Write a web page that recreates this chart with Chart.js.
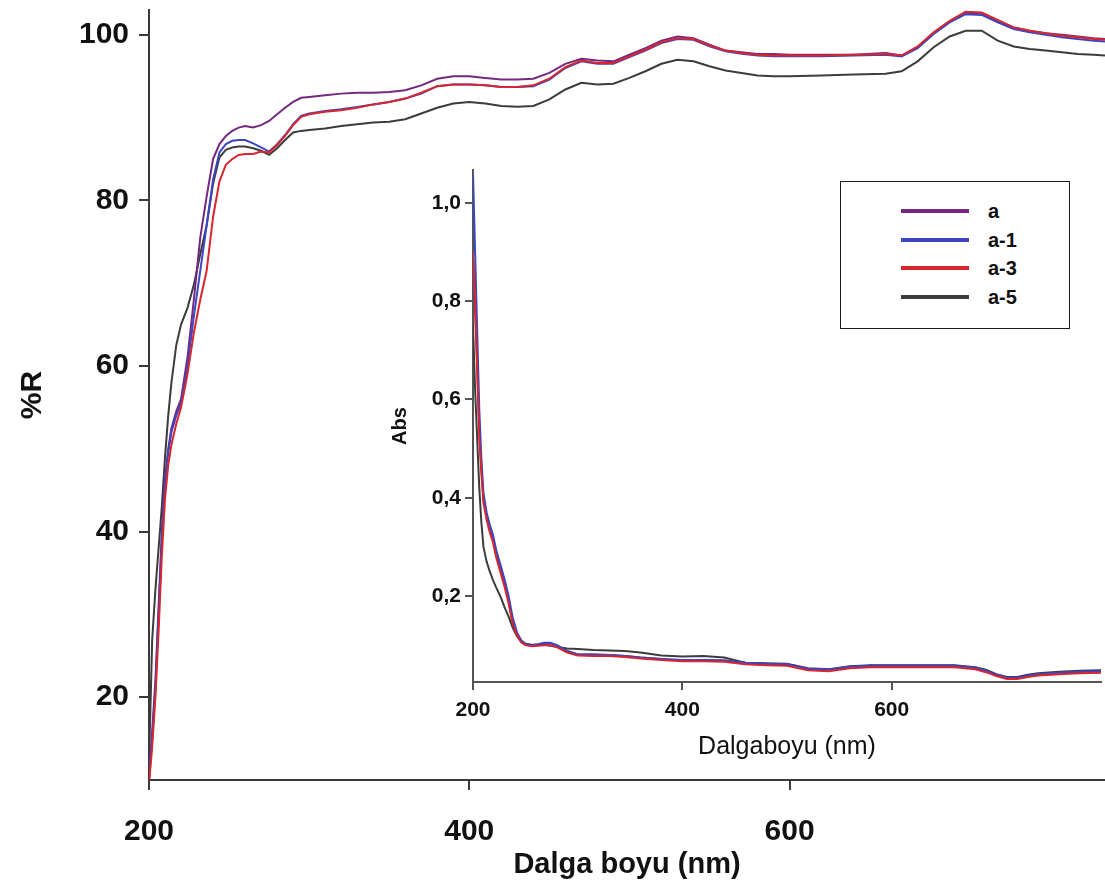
<!DOCTYPE html>
<html>
<head>
<meta charset="utf-8">
<script src="https://cdn.jsdelivr.net/npm/chart.js@4.4.1/dist/chart.umd.min.js"></script>
<style>
  html, body { margin: 0; padding: 0; background: #fff; }
  #wrap { position: relative; width: 1105px; height: 888px; overflow: hidden; background: #fff; }
  #mainChart { position: absolute; left: 0; top: 0; }
  #insetChart { position: absolute; left: 380px; top: 150px; }
  #legend {
    position: absolute; left: 840px; top: 181px; width: 230px; height: 148px;
    border: 1px solid #1a1a1a; background: #fff; box-sizing: border-box;
    font-family: 'Liberation Sans', Arial, sans-serif; font-weight: bold; font-size: 20px; color: #111;
  }
  .lg-row { position: absolute; left: 0; height: 24px; }
  .lg-line { position: absolute; left: 60px; width: 68px; height: 4px; }
  .lg-text { position: absolute; left: 147px; top: 0; line-height: 24px; white-space: nowrap; }
</style>
</head>
<body>
<div id="wrap">
  <canvas id="mainChart" width="1105" height="888"></canvas>
  <canvas id="insetChart" width="725" height="620"></canvas>
  <div id="legend"></div>
</div>
<script>
// Series names and colours
const seriesNames  = ['a', 'a-1', 'a-3', 'a-5'];
const seriesColors = ['#74297f', '#3a46c2', '#d8262f', '#3c3c3c'];

// Reflectance spectra (%R) vs wavelength (nm)
const mainWavelength = [200,202,204,206,208,210,212,214,217,220,224,228,232,236,240,244,248,252,256,260,
  265,270,275,280,285,290,295,300,310,320,330,340,350,360,370,380,390,400,410,420,430,440,450,460,470,480,490,
  500,510,520,530,540,550,560,570,580,590,600,620,640,660,670,680,690,700,710,720,730,740,750,760,770,780,790,797];

const reflA = [10.5,16,22,31,40,46.5,50,52.5,54.5,56,61,68,75.5,80.5,85,86.8,87.8,88.4,88.8,89.0,
  88.8,89.1,89.6,90.4,91.2,91.9,92.4,92.5,92.7,92.9,93.0,93.0,93.1,93.3,93.9,94.7,95.0,95.0,94.8,94.6,94.6,94.7,95.4,96.5,97.1,96.9,96.8,
  97.6,98.4,99.3,99.8,99.6,98.8,98.1,97.9,97.7,97.7,97.6,97.6,97.6,97.8,97.5,98.5,100.2,101.6,102.6,102.5,101.6,100.9,100.5,100.2,100.0,99.8,99.6,99.5];

const reflA1 = [10,15,21,30,39,45.5,49.5,52,54,55.5,60,66,71.5,77,82.5,85.8,86.8,87.2,87.3,87.3,
  86.9,86.4,85.9,86.8,87.9,89.2,90.2,90.5,90.8,91.0,91.3,91.6,91.9,92.3,92.9,93.8,94.0,94.0,93.9,93.7,93.7,93.8,94.6,96.0,96.8,96.5,96.5,
  97.3,98.1,99.0,99.5,99.4,98.6,98.0,97.7,97.5,97.4,97.4,97.4,97.5,97.6,97.4,98.4,100.1,101.5,102.5,102.4,101.5,100.7,100.3,100.0,99.7,99.5,99.3,99.2];

const reflA3 = [9.5,14,20,28,37,44,48,50.5,53,55,59,64,68,71.5,78,82.3,84.3,85.0,85.5,85.6,
  85.6,85.9,85.8,86.7,87.8,89.1,90.1,90.4,90.7,90.9,91.2,91.6,91.9,92.3,93.0,93.8,94.0,94.0,93.9,93.7,93.7,93.9,94.7,96.1,96.9,96.6,96.6,
  97.4,98.2,99.1,99.6,99.5,98.7,98.1,97.8,97.6,97.5,97.5,97.5,97.6,97.7,97.5,98.6,100.3,101.7,102.8,102.7,101.8,100.9,100.5,100.2,99.9,99.7,99.5,99.4];

const reflA5 = [12,27,33,38,43,49,54,58,62.5,65,67,69.8,73.5,77,82,85.2,86.1,86.4,86.5,86.5,
  86.3,86.0,85.5,86.3,87.3,88.2,88.4,88.5,88.7,89.0,89.2,89.4,89.5,89.8,90.5,91.2,91.7,91.9,91.7,91.4,91.3,91.4,92.2,93.4,94.2,94.0,94.1,
  94.8,95.6,96.5,97.0,96.8,96.2,95.7,95.4,95.1,95.0,95.0,95.1,95.2,95.3,95.6,96.8,98.5,99.8,100.5,100.5,99.3,98.6,98.3,98.1,97.9,97.7,97.6,97.5];

// Absorbance spectra (inset)
const insetWavelength = [200,202,204,206,208,210,213,216,219,222,226,230,234,238,242,246,250,256,262,268,274,280,
  290,300,315,330,345,360,380,400,420,440,460,480,500,520,540,560,580,600,620,640,660,680,690,700,710,720,730,740,760,780,800];

const absA = [0.89,0.78,0.67,0.54,0.46,0.395,0.365,0.34,0.32,0.29,0.26,0.23,0.19,0.145,0.122,0.108,0.102,0.099,0.100,0.102,0.104,0.100,
  0.088,0.081,0.081,0.080,0.078,0.075,0.072,0.069,0.070,0.069,0.064,0.062,0.061,0.052,0.050,0.056,0.058,0.058,0.058,0.058,0.058,0.054,
  0.048,0.040,0.034,0.034,0.038,0.041,0.044,0.046,0.047];

const absA1 = [1.06,0.90,0.74,0.58,0.48,0.41,0.37,0.345,0.325,0.295,0.265,0.235,0.20,0.155,0.126,0.110,0.103,0.100,0.102,0.105,0.105,0.100,
  0.088,0.081,0.081,0.080,0.078,0.075,0.072,0.070,0.070,0.069,0.064,0.062,0.061,0.052,0.050,0.056,0.058,0.058,0.058,0.058,0.058,0.054,
  0.048,0.039,0.033,0.034,0.038,0.041,0.044,0.046,0.047];

const absA3 = [0.90,0.80,0.66,0.52,0.45,0.39,0.355,0.33,0.31,0.28,0.25,0.22,0.185,0.142,0.12,0.106,0.100,0.098,0.099,0.100,0.100,0.096,
  0.085,0.079,0.078,0.078,0.076,0.073,0.070,0.067,0.067,0.066,0.061,0.059,0.058,0.049,0.047,0.053,0.055,0.055,0.055,0.055,0.055,0.051,
  0.045,0.037,0.031,0.031,0.035,0.038,0.041,0.043,0.044];

const absA5 = [0.75,0.62,0.52,0.42,0.35,0.30,0.27,0.25,0.233,0.218,0.20,0.178,0.158,0.135,0.118,0.108,0.103,0.101,0.101,0.101,0.099,0.096,
  0.093,0.092,0.090,0.089,0.088,0.085,0.079,0.077,0.078,0.075,0.064,0.063,0.062,0.053,0.051,0.057,0.059,0.059,0.059,0.059,0.059,0.055,
  0.050,0.041,0.035,0.035,0.040,0.043,0.046,0.048,0.049];

// Tick values
const mainXTicks  = [200, 400, 600];
const mainYTicks  = [20, 40, 60, 80, 100];
const insetXTicks = [200, 400, 600];
const insetYTicks = [0.2, 0.4, 0.6, 0.8, 1.0];

const FONT = "'Liberation Sans', Arial, Helvetica, sans-serif";
Chart.defaults.font.family = FONT;
Chart.defaults.color = '#111';

function toPoints(xs, ys) { return xs.map((x, i) => ({ x: x, y: ys[i] })); }

function makeDatasets(xs, seriesList, width) {
  // lower order is painted last: red on top, then blue, purple, grey
  const drawOrder = [3, 2, 1, 4];
  return seriesList.map((ys, i) => ({
    label: seriesNames[i],
    data: toPoints(xs, ys),
    borderColor: seriesColors[i],
    backgroundColor: seriesColors[i],
    borderWidth: width,
    pointRadius: 0,
    tension: 0,
    fill: false,
    order: drawOrder[i]
  }));
}

function fixedTicks(values) {
  return function (scale) { scale.ticks = values.map(v => ({ value: v })); };
}

// pin an axis box to a fixed size and drop the label overflow padding
function fixedSize(prop, size) {
  return function (s) {
    s[prop] = size;
    s.paddingTop = 0; s.paddingBottom = 0; s.paddingLeft = 0; s.paddingRight = 0;
  };
}

const axisColor = '#3a3a3a';

// Main reflectance chart
new Chart(document.getElementById('mainChart'), {
  type: 'line',
  data: { datasets: makeDatasets(mainWavelength, [reflA, reflA1, reflA3, reflA5], 2) },
  options: {
    responsive: false,
    animation: false,
    devicePixelRatio: 1,
    layout: { padding: { top: 10, right: 0, left: 0, bottom: 0 } },
    plugins: { legend: { display: false }, tooltip: { enabled: false } },
    scales: {
      x: {
        type: 'linear', min: 200, max: 797,
        afterBuildTicks: fixedTicks(mainXTicks),
        afterFit: fixedSize('height', 108),
        grid: { display: true, drawOnChartArea: false, drawTicks: true, tickLength: 10, color: axisColor, lineWidth: 2 },
        border: { display: true, color: axisColor, width: 2 },
        ticks: { font: { size: 30, weight: 'bold' }, color: '#111', padding: 24, maxRotation: 0, callback: v => String(v) },
        title: { display: true, text: 'Dalga boyu (nm)', font: { size: 29, weight: 'bold' }, color: '#111', padding: { top: 0, bottom: 6 } }
      },
      y: {
        type: 'linear', min: 10, max: 103,
        afterBuildTicks: fixedTicks(mainYTicks),
        afterFit: fixedSize('width', 149),
        grid: { display: true, drawOnChartArea: false, drawTicks: true, tickLength: 10, color: axisColor, lineWidth: 2 },
        border: { display: true, color: axisColor, width: 2 },
        ticks: { font: { size: 30, weight: 'bold' }, color: '#111', padding: 10, callback: v => String(v) },
        title: { display: true, text: '%R', font: { size: 30, weight: 'bold' }, color: '#111', padding: { top: 15, bottom: 0 } }
      }
    }
  }
});

// Inset absorbance chart
new Chart(document.getElementById('insetChart'), {
  type: 'line',
  data: { datasets: makeDatasets(insetWavelength, [absA, absA1, absA3, absA5], 2) },
  options: {
    responsive: false,
    animation: false,
    devicePixelRatio: 1,
    layout: { padding: { top: 20, right: 4, left: 0, bottom: 0 } },
    plugins: { legend: { display: false }, tooltip: { enabled: false } },
    scales: {
      x: {
        type: 'linear', min: 200, max: 800,
        afterBuildTicks: fixedTicks(insetXTicks),
        afterFit: fixedSize('height', 88),
        grid: { display: true, drawOnChartArea: false, drawTicks: true, tickLength: 8, color: '#555', lineWidth: 2 },
        border: { display: true, color: '#555', width: 2 },
        ticks: { font: { size: 21, weight: 'bold' }, color: '#111', padding: 8, maxRotation: 0, callback: v => String(v) },
        title: { display: true, text: 'Dalgaboyu (nm)', font: { size: 25 }, color: '#111', padding: { top: 0, bottom: 8 } }
      },
      y: {
        type: 'linear', min: 0.025, max: 1.067,
        afterBuildTicks: fixedTicks(insetYTicks),
        afterFit: fixedSize('width', 93),
        grid: { display: true, drawOnChartArea: false, drawTicks: true, tickLength: 8, color: '#555', lineWidth: 2 },
        border: { display: true, color: '#555', width: 2 },
        ticks: { font: { size: 21, weight: 'bold' }, color: '#111', padding: 4, callback: v => v.toFixed(1).replace('.', ',') },
        title: { display: true, text: 'Abs', font: { size: 20, weight: 'bold' }, color: '#111', padding: { top: 8, bottom: 0 } }
      }
    }
  }
});

// Legend box
const legendBox = document.getElementById('legend');
const rowTops = [17, 46, 74, 103];
seriesNames.forEach((name, i) => {
  const row = document.createElement('div');
  row.className = 'lg-row';
  row.style.top = rowTops[i] + 'px';
  row.style.width = '100%';
  const line = document.createElement('div');
  line.className = 'lg-line';
  line.style.top = '10px';
  line.style.background = seriesColors[i];
  const txt = document.createElement('div');
  txt.className = 'lg-text';
  txt.textContent = name;
  row.appendChild(line);
  row.appendChild(txt);
  legendBox.appendChild(row);
});
</script>
</body>
</html>
